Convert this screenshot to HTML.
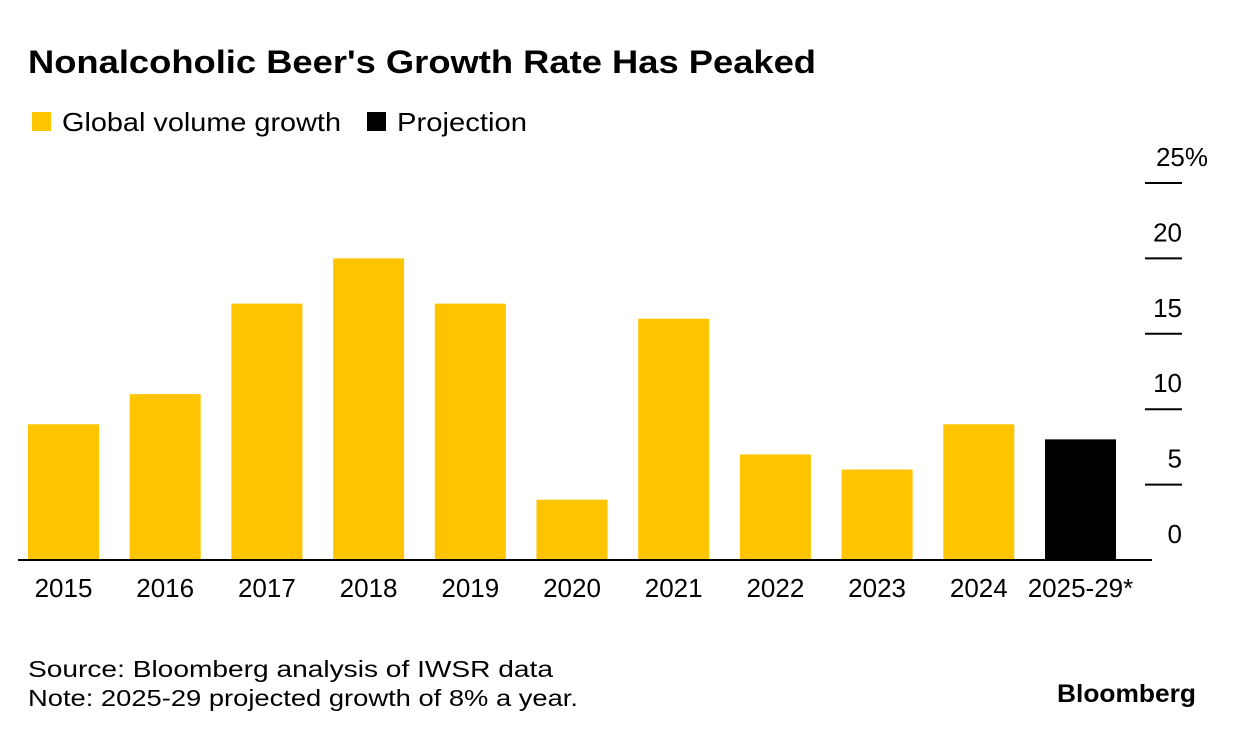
<!DOCTYPE html>
<html><head><meta charset="utf-8"><style>
body{margin:0;background:#fff;font-family:"Liberation Sans",sans-serif;}
svg text{font-family:"Liberation Sans",sans-serif;}
</style></head><body>
<svg width="1236" height="738" xmlns="http://www.w3.org/2000/svg" id="chart">
<text x="28" y="73" font-size="32" font-weight="bold" fill="#000" textLength="788" lengthAdjust="spacingAndGlyphs">Nonalcoholic Beer's Growth Rate Has Peaked</text>
<g>
<rect x="32" y="112" width="19" height="19" fill="#ffc400"/>
<text x="62" y="131" font-size="26" textLength="279" lengthAdjust="spacingAndGlyphs">Global volume growth</text>
<rect x="367" y="112" width="19" height="19" fill="#000"/>
<text x="397" y="131" font-size="26" textLength="130" lengthAdjust="spacingAndGlyphs">Projection</text>
</g>
<g id="bars"></g>
<g id="axis"></g>
<g id="xaxis"></g>
<text x="28" y="677" font-size="23" textLength="525" lengthAdjust="spacingAndGlyphs">Source: Bloomberg analysis of IWSR data</text>
<text x="28" y="706" font-size="23" textLength="550" lengthAdjust="spacingAndGlyphs">Note: 2025-29 projected growth of 8% a year.</text>
<text x="1057" y="702" font-size="25" font-weight="bold" textLength="139" lengthAdjust="spacingAndGlyphs">Bloomberg</text>
</svg>
<script>
const categories=["2015","2016","2017","2018","2019","2020","2021","2022","2023","2024","2025-29*"];
const values=[9,11,17,20,17,4,16,7,6,9,8];
const projection=[false,false,false,false,false,false,false,false,false,false,true];
const yTicks=[0,5,10,15,20,25];
const yTickLabels=["0","5","10","15","20","25%"];
const NS="http://www.w3.org/2000/svg";
const y0=560,yTop=183,vmax=25;
function y(v){return y0-(y0-yTop)*v/vmax;}
function x(i){return 28+i*101.7;}
const bw=71;
const bars=document.getElementById('bars'),ax=document.getElementById('axis'),xa=document.getElementById('xaxis');
values.forEach((v,i)=>{
 const r=document.createElementNS(NS,'rect');
 r.setAttribute('x',x(i));r.setAttribute('y',y(v));r.setAttribute('width',bw);r.setAttribute('height',y0-y(v));
 r.setAttribute('fill',projection[i]?'#000':'#ffc400');
 
 
 bars.appendChild(r);
 const t=document.createElementNS(NS,'text');
 t.setAttribute('x',x(i)+bw/2);t.setAttribute('y',597);t.setAttribute('font-size','26');t.setAttribute('text-anchor','middle');
 t.textContent=categories[i];
 
 
 xa.appendChild(t);
});
const base=document.createElementNS(NS,'line');
base.setAttribute('x1',18);base.setAttribute('x2',1152);base.setAttribute('y1',y0);base.setAttribute('y2',y0);
base.setAttribute('stroke','#000');base.setAttribute('stroke-width','2');


xa.appendChild(base);
yTicks.forEach((v,i)=>{
 if(v>0){
 const l=document.createElementNS(NS,'line');
 l.setAttribute('x1',1145);l.setAttribute('x2',1182);l.setAttribute('y1',y(v));l.setAttribute('y2',y(v));
 l.setAttribute('stroke','#000');l.setAttribute('stroke-width','2');
 
 
 ax.appendChild(l);}
 const t=document.createElementNS(NS,'text');
 t.setAttribute('x',v===25?1208:1182);t.setAttribute('y',y(v)-17);t.setAttribute('font-size','26');t.setAttribute('text-anchor','end');
 t.textContent=yTickLabels[i];
 
 
 ax.appendChild(t);
});
</script>
</body></html>
